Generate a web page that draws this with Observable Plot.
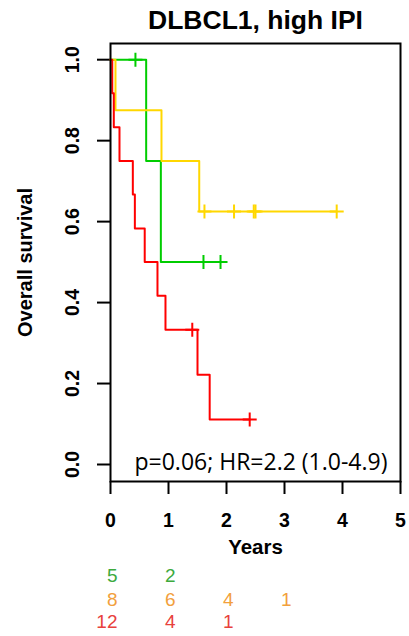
<!DOCTYPE html>
<html><head><meta charset="utf-8">
<script src="https://cdn.jsdelivr.net/npm/d3@7"></script>
<script src="https://cdn.jsdelivr.net/npm/@observablehq/plot@0.6"></script>
<style>body{margin:0;background:#fff}#chart{width:409px;height:636px}</style>
</head><body><div id="chart"></div>
<script>
const title = "DLBCL1, high IPI";
const xLabel = "Years";
const yLabel = "Overall survival";
const annotation = "p=0.06; HR=2.2 (1.0-4.9)";
const xTicks = [0, 1, 2, 3, 4, 5];
const yTicks = [0, 0.2, 0.4, 0.6, 0.8, 1.0];

// Kaplan-Meier steps: step times and survival after each step
const greenStepTimes = [0, 0.615, 0.868];
const greenStepSurv  = [1, 0.75, 0.5];
const greenCensor    = [0.43, 1.603, 1.897];

const yellowStepTimes = [0, 0.086, 0.879, 1.53];
const yellowStepSurv  = [1, 0.875, 0.75, 0.625];
const yellowCensor    = [1.62, 2.13, 2.47, 2.50, 3.90];

const redStepTimes = [0, 0.03, 0.057, 0.155, 0.385, 0.42, 0.59, 0.81, 0.948, 1.50, 1.71];
const redStepSurv  = [1, 0.917, 0.833, 0.75, 0.667, 0.583, 0.5, 0.417, 0.333, 0.222, 0.111];
const redCensor    = [1.41, 2.40];

// number at risk
const riskTimes = [0, 1, 2, 3];
const greenRisk  = [5, 2];
const yellowRisk = [8, 6, 4, 1];
const redRisk    = [12, 4, 1];

const lineColors = {green: "#00CD00", yellow: "#FFD700", red: "#FF0000"};
const riskColors = {green: "#3DAA3D", yellow: "#F2A03C", red: "#E8413C"};

function steps(times, surv, censor) {
  const rows = times.map((t, i) => ({t, s: surv[i]}));
  const end = Math.max(times[times.length - 1], ...censor);
  rows.push({t: end, s: surv[surv.length - 1]});
  return rows;
}
function censorRows(times, surv, censor) {
  return censor.map(c => {
    let s = surv[0];
    times.forEach((t, i) => { if (t <= c) s = surv[i]; });
    return {t: c, s};
  });
}
const plusSymbol = {
  draw(ctx, size) {
    const r = Math.sqrt(size / Math.PI);
    ctx.moveTo(-r, 0); ctx.lineTo(r, 0);
    ctx.moveTo(0, -r); ctx.lineTo(0, r);
  }
};

const series = [
  {key: "green", times: greenStepTimes, surv: greenStepSurv, censor: greenCensor},
  {key: "yellow", times: yellowStepTimes, surv: yellowStepSurv, censor: yellowCensor},
  {key: "red", times: redStepTimes, surv: redStepSurv, censor: redCensor}
];
const risks = [
  {key: "green", values: greenRisk, dy: 94},
  {key: "yellow", values: yellowRisk, dy: 118},
  {key: "red", values: redRisk, dy: 140}
];

const marks = [];
marks.push(Plot.axisX({ticks: xTicks, tickSize: 13, tickFormat: () => "", strokeWidth: 2, label: null}));
marks.push(Plot.axisY({ticks: yTicks, tickSize: 13, tickFormat: () => "", strokeWidth: 2, label: null}));
marks.push(Plot.text(xTicks, {x: d => d, frameAnchor: "bottom", dy: 39, textAnchor: "middle", lineAnchor: "middle", text: d => String(d),
  fontSize: 19.5, fontWeight: "bold", fill: "black"}));
marks.push(Plot.text(yTicks, {y: d => d, frameAnchor: "left", dx: -38, rotate: -90, textAnchor: "middle", lineAnchor: "middle",
  text: d => d.toFixed(1), fontSize: 19.5, fontWeight: "bold", fill: "black"}));
for (const s of series) {
  marks.push(Plot.line(steps(s.times, s.surv, s.censor), {x: "t", y: "s", curve: "step-after", stroke: lineColors[s.key], strokeWidth: 2}));
  marks.push(Plot.dot(censorRows(s.times, s.surv, s.censor), {x: "t", y: "s", symbol: plusSymbol, r: 7, stroke: lineColors[s.key], fill: "none", strokeWidth: 2}));
}
marks.push(Plot.frame({stroke: "black", strokeWidth: 2}));
marks.push(Plot.text([title], {frameAnchor: "top", dy: -23, textAnchor: "middle", lineAnchor: "middle", fontSize: 26.5, fontWeight: "bold", fill: "black"}));
marks.push(Plot.text([xLabel], {frameAnchor: "bottom", dy: 66, textAnchor: "middle", lineAnchor: "middle", fontSize: 20.5, fontWeight: "bold", fill: "black"}));
marks.push(Plot.text([yLabel], {frameAnchor: "left", dx: -85, rotate: -90, textAnchor: "middle", lineAnchor: "middle", fontSize: 20, fontWeight: "bold", fill: "black"}));
marks.push(Plot.text([annotation], {frameAnchor: "bottom-right", dx: -13, dy: -19, textAnchor: "end", lineAnchor: "middle",
  fontSize: 23, fontFamily: "Open Sans", fill: "black"}));
for (const r of risks) {
  const rows = r.values.map((n, i) => ({t: riskTimes[i], n}));
  marks.push(Plot.text(rows, {x: "t", text: d => String(d.n), frameAnchor: "bottom", dy: r.dy, dx: 7, textAnchor: "end", lineAnchor: "middle",
    fontSize: 19, fill: riskColors[r.key]}));
}

const chart = Plot.plot({
  width: 409, height: 636,
  marginTop: 43, marginBottom: 155, marginLeft: 110, marginRight: 9,
  style: {fontFamily: "Liberation Sans, Arial, sans-serif", background: "white"},
  x: {domain: [0, 5]},
  y: {domain: [-0.042, 1.04]},
  marks
});
document.getElementById("chart").appendChild(chart);
</script>
</body></html>
